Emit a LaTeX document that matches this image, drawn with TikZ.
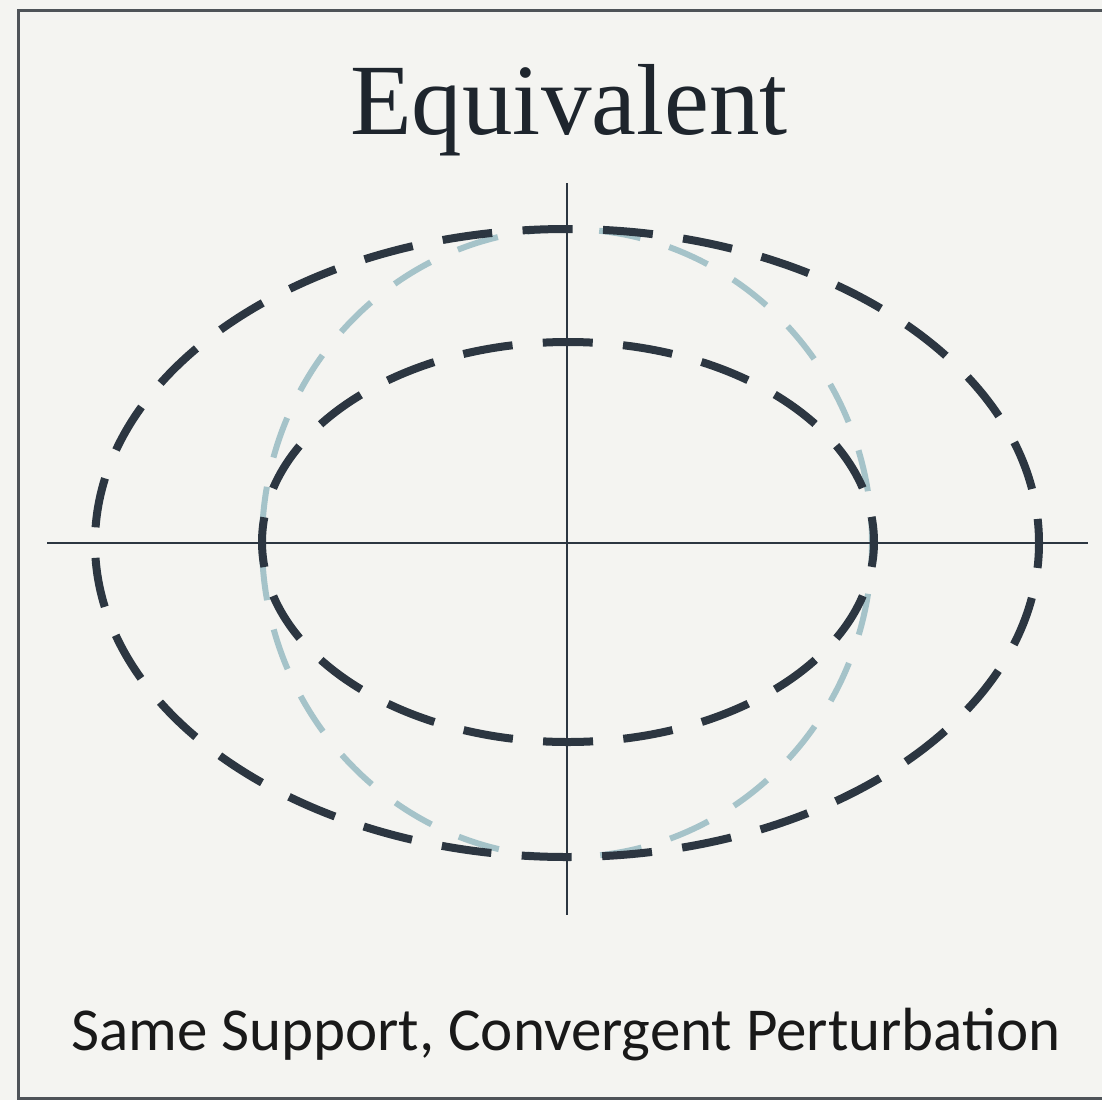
\documentclass[tikz,border=0pt]{standalone}
\usepackage{fontspec}
\newfontfamily\titlefont{Liberation Serif}
\newfontfamily\capfont{Carlito}
\definecolor{bgc}{HTML}{F4F4F1}
\definecolor{inkc}{HTML}{2C3641}
\definecolor{lightc}{HTML}{A5C3C9}
\definecolor{framec}{HTML}{4E5358}
\definecolor{textc}{HTML}{1E252D}
\tikzset{
  darkdash/.style={draw=inkc, line width=8pt, dash pattern=on 50pt off 30.5pt, dash phase=25pt},
  lightdash/.style={draw=lightc, line width=6pt, dash pattern=on 42pt off 30pt, dash phase=21pt},
  axisline/.style={draw=inkc, line width=2.8pt},
  framebox/.style={draw=framec, line width=3pt},
}
\begin{document}
\begin{tikzpicture}[x=1pt,y=-1pt]
\useasboundingbox[fill=bgc] (0,0) rectangle (1102,1100);
\draw[framebox] (18,10) rectangle (1115,1098);
% ellipses
\draw[lightdash] (567,543) ellipse [x radius=305, y radius=314];
\draw[axisline] (47,543) -- (1088,543);
\draw[axisline] (567,183) -- (567,915);
\draw[darkdash] (567,543) ellipse [x radius=472, y radius=314];
\draw[darkdash, dash pattern=on 50pt off 30.35pt] (568,542) ellipse [x radius=306, y radius=200];
% texts
\node[anchor=base, inner sep=0pt, text=textc, font=\titlefont\fontsize{101}{115}\selectfont] (title) at (569,134) {Equivalent};
\node[anchor=base, inner sep=0pt, text=black!90, font=\capfont\fontsize{61}{70}\selectfont] (caption) at (566,1050) {Same Support, Convergent Perturbation};
\end{tikzpicture}
\end{document}
